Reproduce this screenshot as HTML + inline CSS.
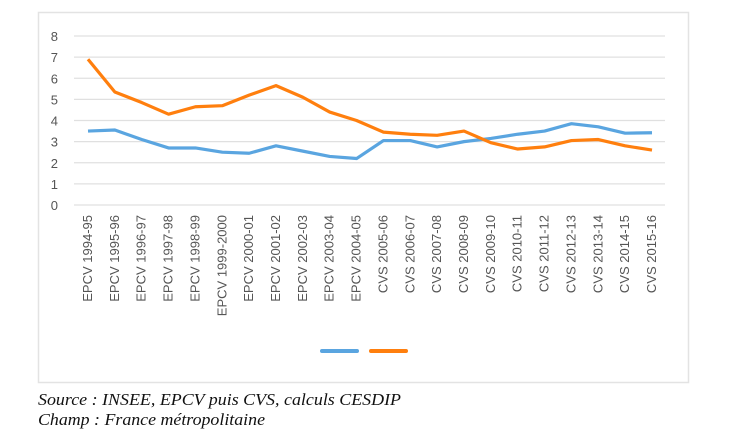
<!DOCTYPE html>
<html><head><meta charset="utf-8"><style>
html,body{margin:0;padding:0;background:#fff;}
svg{display:block;}
</style></head><body>
<svg id="chart" width="754" height="448" xmlns="http://www.w3.org/2000/svg">
<rect x="38.5" y="12.5" width="650" height="370" fill="#fff" stroke="#e3e3e3" stroke-width="1.5"/>
<g id="grid"></g><g id="ylabels"></g><g id="xlabels"></g><g id="series"></g>
<line x1="322" y1="351" x2="357" y2="351" stroke="#5aa5e0" stroke-width="4" stroke-linecap="round"/>
<line x1="371" y1="351" x2="406" y2="351" stroke="#ff7f0e" stroke-width="4" stroke-linecap="round"/>
<text x="38" y="405" font-family="Liberation Serif, serif" font-style="italic" font-size="17" textLength="363" lengthAdjust="spacingAndGlyphs" fill="#111">Source : INSEE, EPCV puis CVS, calculs CESDIP</text>
<text x="38" y="425" font-family="Liberation Serif, serif" font-style="italic" font-size="17" textLength="227" lengthAdjust="spacingAndGlyphs" fill="#111">Champ : France métropolitaine</text>
</svg>
<script>
const categories=["EPCV 1994-95","EPCV 1995-96","EPCV 1996-97","EPCV 1997-98","EPCV 1998-99","EPCV 1999-2000","EPCV 2000-01","EPCV 2001-02","EPCV 2002-03","EPCV 2003-04","EPCV 2004-05","CVS 2005-06","CVS 2006-07","CVS 2007-08","CVS 2008-09","CVS 2009-10","CVS 2010-11","CVS 2011-12","CVS 2012-13","CVS 2013-14","CVS 2014-15","CVS 2015-16"];
const blueValues=[3.5,3.55,3.1,2.7,2.7,2.5,2.45,2.8,2.55,2.3,2.2,3.05,3.05,2.75,3.0,3.15,3.35,3.5,3.85,3.7,3.4,3.42];
const orangeValues=[6.9,5.35,4.85,4.3,4.65,4.7,5.2,5.65,5.1,4.4,4.0,3.45,3.35,3.3,3.5,2.95,2.65,2.75,3.05,3.1,2.8,2.6];
const yTicks=[0,1,2,3,4,5,6,7,8];
const NS="http://www.w3.org/2000/svg";
const x0=88,x1=652,yTop=36,yBot=205,yMax=8;
function xs(i){return x0+(x1-x0)*i/(categories.length-1);}
function ys(v){return yBot-(yBot-yTop)*v/yMax;}
const grid=document.getElementById('grid'),yl=document.getElementById('ylabels'),xl=document.getElementById('xlabels'),se=document.getElementById('series');
yTicks.forEach(t=>{
 const l=document.createElementNS(NS,'line');
 
 
 l.setAttribute('x1',74);l.setAttribute('x2',665);l.setAttribute('y1',ys(t));l.setAttribute('y2',ys(t));
 l.setAttribute('stroke','#e0e0e0');l.setAttribute('stroke-width','1.2');grid.appendChild(l);
 const tx=document.createElementNS(NS,'text');
 
 
 tx.setAttribute('x',58);tx.setAttribute('y',ys(t)+5);tx.setAttribute('text-anchor','end');
 tx.setAttribute('font-family','Liberation Sans, sans-serif');tx.setAttribute('font-size','13');tx.setAttribute('fill','#555');
 tx.textContent=t;yl.appendChild(tx);
});
categories.forEach((c,i)=>{
 const tx=document.createElementNS(NS,'text');
 
 
 const x=xs(i)+4,y=215;
 tx.setAttribute('x',x);tx.setAttribute('y',y);tx.setAttribute('text-anchor','end');
 tx.setAttribute('transform','rotate(-90 '+x+' '+y+')');
 tx.setAttribute('font-family','Liberation Sans, sans-serif');tx.setAttribute('font-size','13');tx.setAttribute('fill','#555');
 tx.textContent=c;xl.appendChild(tx);
});
function line(vals,color,name){
 const p=document.createElementNS(NS,'polyline');
 
 
 p.setAttribute('points',vals.map((v,i)=>xs(i)+','+ys(v)).join(' '));
 p.setAttribute('fill','none');p.setAttribute('stroke',color);p.setAttribute('stroke-width','3.2');p.setAttribute('stroke-linejoin','round');
 se.appendChild(p);
}
line(blueValues,'#5aa5e0','series-blue');
line(orangeValues,'#ff7f0e','series-orange');
</script>
</body></html>
